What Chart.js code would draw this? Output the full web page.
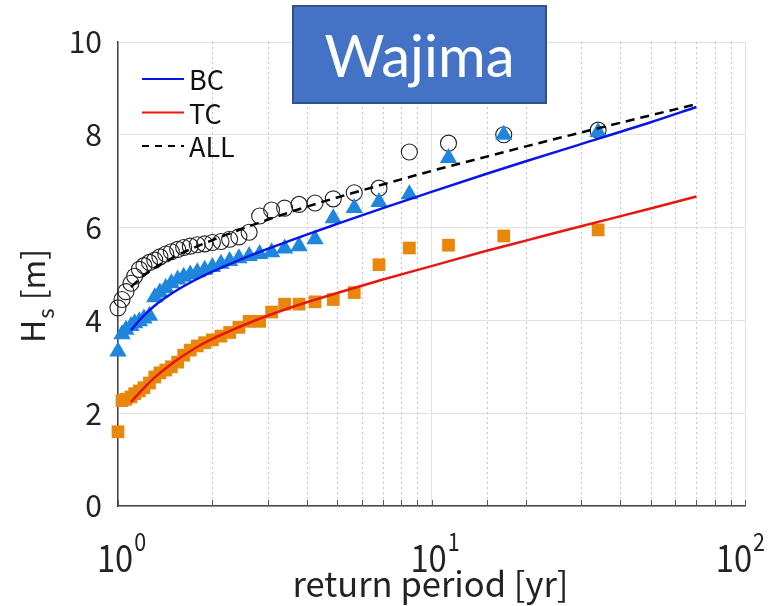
<!DOCTYPE html>
<html>
<head>
<meta charset="utf-8">
<script src="https://cdn.jsdelivr.net/npm/chart.js@4.4.1/dist/chart.umd.min.js"></script>
<style>
  html, body { margin: 0; padding: 0; background: #fff; }
  #wrap { position: relative; width: 769px; height: 606px; }
  #titulo {
    position: absolute; left: 292px; top: 5px; width: 251px; height: 95px;
    background: #4472c4; border: 2px solid #2f528f; color: #fff;
    font: 58px Lato, "Open Sans", sans-serif;
    display: flex; align-items: center; justify-content: center;
  }
</style>
</head>
<body>
<div id="wrap">
  <canvas id="grafico" width="769" height="606"></canvas>
  <div id="titulo">Wajima</div>
</div>
<script>
// periodo de retorno (años) de cada valor observado, ordenado de mayor a menor
const periodoObs = [34, 17, 11.33, 8.5, 6.8, 5.67, 4.86, 4.25, 3.78, 3.4, 3.09, 2.83, 2.62, 2.43, 2.27,
  2.13, 2.0, 1.89, 1.79, 1.7, 1.62, 1.55, 1.48, 1.42, 1.36, 1.31, 1.26, 1.21, 1.17, 1.13, 1.1, 1.06, 1.03, 1.0];

// Hs observado [m]
const hsAll = [8.1, 8.0, 7.82, 7.63, 6.85, 6.75, 6.62, 6.53, 6.5, 6.42, 6.38, 6.25, 5.9, 5.8, 5.75,
  5.7, 5.68, 5.65, 5.63, 5.6, 5.57, 5.53, 5.48, 5.43, 5.37, 5.3, 5.25, 5.18, 5.1, 4.95, 4.8, 4.62, 4.45, 4.27];
const hsBC = [8.06, 8.0, 7.5, 6.72, 6.55, 6.42, 6.2, 5.75, 5.6, 5.55, 5.47, 5.43, 5.39, 5.34, 5.28,
  5.22, 5.15, 5.09, 5.04, 4.99, 4.94, 4.88, 4.8, 4.7, 4.6, 4.5, 4.1, 4.04, 3.98, 3.94, 3.88, 3.8, 3.7, 3.33];
const hsTC = [5.95, 5.82, 5.62, 5.56, 5.2, 4.6, 4.45, 4.4, 4.35, 4.35, 4.18, 3.98, 3.98, 3.85, 3.74,
  3.66, 3.58, 3.52, 3.45, 3.36, 3.25, 3.1, 3.0, 2.93, 2.87, 2.78, 2.65, 2.55, 2.48, 2.42, 2.35, 2.3, 2.27, 1.6];

// curvas ajustadas
const periodoAjuste = [1.1, 1.2, 1.3, 1.5, 1.75, 2, 2.5, 3, 4, 5, 7, 10, 15, 20, 30, 50, 70];
const ajusteBC = [3.79, 4.08, 4.3, 4.6, 4.86, 5.05, 5.33, 5.54, 5.85, 6.08, 6.42, 6.77, 7.16, 7.43, 7.8, 8.27, 8.6];
const ajusteTC = [2.24, 2.52, 2.75, 3.09, 3.39, 3.6, 3.89, 4.1, 4.39, 4.59, 4.88, 5.17, 5.5, 5.72, 6.03, 6.41, 6.67];
const ajusteAll = [4.72, 4.95, 5.12, 5.36, 5.57, 5.73, 5.98, 6.17, 6.45, 6.65, 6.93, 7.22, 7.53, 7.75, 8.05, 8.42, 8.66];

const decadas = [1, 10, 100];
const exponentes = ['0', '1', '2'];

const FUENTE = "'Noto Sans CJK JP', 'Noto Sans', sans-serif";

const puntos = (xs, ys) => xs.map((x, i) => ({ x, y: ys[i] }));
const esDecada = v => Math.abs(Math.log10(v) - Math.round(Math.log10(v))) < 1e-9;

const leyenda = [
  { texto: 'BC', color: '#0a14e6', dash: [] },
  { texto: 'TC', color: '#e8160f', dash: [] },
  { texto: 'ALL', color: '#000', dash: [7, 6] }
];

const extras = {
  id: 'extras',
  beforeDatasetsDraw(chart) {
    const { ctx, chartArea: a, scales: { x } } = chart;
    ctx.save();
    ctx.strokeStyle = '#c4c4c4';
    ctx.lineWidth = 1;
    ctx.setLineDash([2, 3]);
    x.ticks.forEach(t => {
      if (esDecada(t.value)) return;
      const px = Math.round(x.getPixelForValue(t.value)) + 0.5;
      ctx.beginPath(); ctx.moveTo(px, a.top); ctx.lineTo(px, a.bottom); ctx.stroke();
    });
    ctx.setLineDash([]);
    // marcas pequeñas sobre el eje x
    ctx.strokeStyle = '#555';
    x.ticks.forEach(t => {
      const px = Math.round(x.getPixelForValue(t.value)) + 0.5;
      ctx.beginPath(); ctx.moveTo(px, a.bottom); ctx.lineTo(px, a.bottom - 6); ctx.stroke();
    });
    ctx.restore();
  },
  afterDraw(chart) {
    const { ctx, chartArea: a, scales: { x } } = chart;
    ctx.save();
    ctx.fillStyle = '#222';

    // etiquetas 10^n (algo estrechas, como en el original)
    const estrecho = 0.86;
    decadas.forEach((v, i) => {
      const px = x.getPixelForValue(v);
      ctx.font = '38px ' + FUENTE;
      const wBase = ctx.measureText('10').width * estrecho;
      ctx.font = '25px ' + FUENTE;
      const wExp = ctx.measureText(exponentes[i]).width * estrecho;
      let x0 = px - (wBase + wExp) / 2 + 3;
      x0 = Math.min(x0, 764 - wBase - wExp);
      ctx.textAlign = 'left';
      ctx.textBaseline = 'alphabetic';
      ctx.save();
      ctx.translate(x0, 572);
      ctx.scale(estrecho, 1);
      ctx.font = '38px ' + FUENTE;
      ctx.fillText('10', 0, 0);
      ctx.font = '25px ' + FUENTE;
      ctx.fillText(exponentes[i], (wBase + 1) / estrecho, -21);
      ctx.restore();
    });

    // título eje x
    ctx.font = '30px ' + FUENTE;
    const titX = 'return period [yr]';
    const escala = 276 / ctx.measureText(titX).width;
    ctx.font = (30 * escala).toFixed(1) + 'px ' + FUENTE;
    ctx.textAlign = 'center';
    ctx.fillText(titX, (a.left + a.right) / 2 - 1, 597);

    // título eje y: H_s [m]
    ctx.translate(45, 297);
    ctx.rotate(-Math.PI / 2);
    ctx.textAlign = 'left';
    ctx.font = '32px ' + FUENTE;
    const wH = ctx.measureText('H').width;
    ctx.font = '22px ' + FUENTE;
    const wS = ctx.measureText('s').width;
    ctx.font = '32px ' + FUENTE;
    const wM = ctx.measureText(' [m]').width;
    let cx = -(wH + wS + wM) / 2;
    ctx.fillText('H', cx, 0);
    cx += wH;
    ctx.font = '22px ' + FUENTE;
    ctx.fillText('s', cx + 1, 9);
    cx += wS + 2;
    ctx.font = '32px ' + FUENTE;
    ctx.fillText(' [m]', cx, 0);
    ctx.setTransform(1, 0, 0, 1, 0, 0);

    // leyenda
    ctx.font = '27px ' + FUENTE;
    ctx.textBaseline = 'middle';
    leyenda.forEach((l, i) => {
      const y = a.top + 37 + i * 33.5;
      ctx.strokeStyle = l.color;
      ctx.lineWidth = 2.2;
      ctx.setLineDash(l.dash);
      ctx.beginPath(); ctx.moveTo(a.left + 24, y); ctx.lineTo(a.left + 66, y); ctx.stroke();
      ctx.fillStyle = '#111';
      ctx.fillText(l.texto, a.left + 71, y + 1);
    });
    ctx.restore();
  }
};

new Chart(document.getElementById('grafico'), {
  type: 'scatter',
  data: {
    datasets: [
      { label: 'BC', data: puntos(periodoAjuste, ajusteBC), showLine: true, borderColor: '#0a14e6',
        borderWidth: 2.5, pointRadius: 0, cubicInterpolationMode: 'monotone' },
      { label: 'TC', data: puntos(periodoAjuste, ajusteTC), showLine: true, borderColor: '#e8160f',
        borderWidth: 2.5, pointRadius: 0, cubicInterpolationMode: 'monotone' },
      { label: 'ALL', data: puntos(periodoAjuste, ajusteAll), showLine: true, borderColor: '#000',
        borderWidth: 2.5, borderDash: [9, 6], pointRadius: 0, cubicInterpolationMode: 'monotone' },
      { label: 'BC obs', data: puntos(periodoObs, hsBC), pointStyle: 'triangle', pointRadius: 10,
        backgroundColor: '#1e86dd', borderColor: '#1e86dd', borderWidth: 0, clip: false },
      { label: 'TC obs', data: puntos(periodoObs, hsTC), pointStyle: 'rect', pointRadius: 9,
        backgroundColor: '#e8870c', borderColor: '#e8870c', borderWidth: 0, clip: false },
      { label: 'ALL obs', data: puntos(periodoObs, hsAll), pointStyle: 'circle', pointRadius: 8,
        backgroundColor: 'rgba(0,0,0,0)', borderColor: '#222', borderWidth: 1.1, clip: false }
    ]
  },
  options: {
    responsive: false,
    animation: false,
    layout: { padding: { left: 0, right: 24, top: 42, bottom: 0 } },
    plugins: { legend: { display: false }, tooltip: { enabled: false } },
    scales: {
      x: {
        type: 'logarithmic',
        min: 1,
        max: 100,
        afterFit: s => { s.height = 100; },
        ticks: { display: false },
        grid: {
          drawTicks: false,
          color: c => (c.tick && esDecada(c.tick.value)) ? '#e2e2e2' : 'rgba(0,0,0,0)'
        },
        border: { color: '#444', width: 1.5 }
      },
      y: {
        min: 0,
        max: 10,
        afterFit: s => { s.width = 118; },
        ticks: { stepSize: 2, padding: 16, color: '#222', font: { family: FUENTE, size: 30 } },
        grid: { drawTicks: false, color: '#e2e2e2' },
        border: { color: '#444', width: 1.5 }
      }
    }
  },
  plugins: [extras]
});
</script>
</body>
</html>
